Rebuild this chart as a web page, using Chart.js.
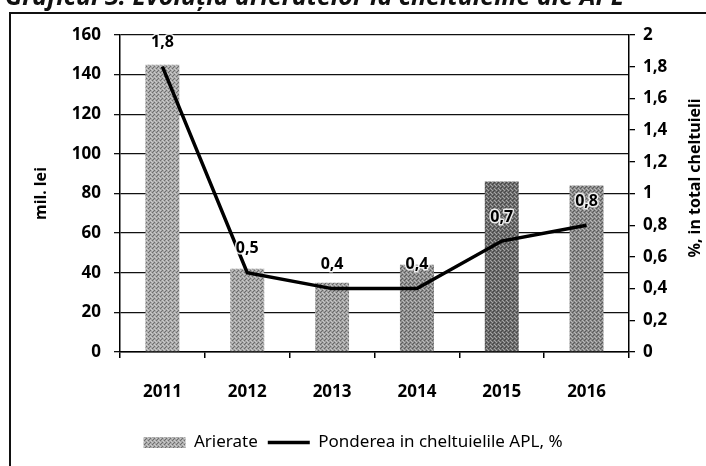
<!DOCTYPE html>
<html>
<head>
<meta charset="utf-8">
<script src="https://cdn.jsdelivr.net/npm/chart.js@4.4.0/dist/chart.umd.min.js"></script>
<style>
  html, body { margin: 0; background: #fff; }
  #wrap { width: 706px; height: 466px; position: relative; }
</style>
</head>
<body>
<div id="wrap"><canvas id="c"></canvas></div>
<script>
const years = ["2011", "2012", "2013", "2014", "2015", "2016"];
const arierate = [145, 42, 35, 44, 86, 84];       // mil. lei
const ponderea = [1.8, 0.5, 0.4, 0.4, 0.7, 0.8];  // %, in total cheltuieli
const barShades = ["#a9a9a9", "#a5a5a5", "#a0a0a0", "#8e8e8e", "#6c6c6c", "#8a8a8a"];
const titleText = "Graficul 3. Evoluția arieratelor la cheltuielile ale APL";

const FONT = "'Noto Sans', 'DejaVu Sans', sans-serif";
const comma = v => String(+v.toFixed(1)).replace(".", ",");

// scanned halftone look for the bars
function dither(hex) {
  const t = document.createElement("canvas");
  t.width = t.height = 4;
  const g = t.getContext("2d");
  g.fillStyle = hex; g.fillRect(0, 0, 4, 4);
  g.fillStyle = "rgba(0,0,0,.35)";
  g.fillRect(0, 0, 1, 1); g.fillRect(2, 2, 1, 1); g.fillRect(1, 3, 1, 1);
  g.fillStyle = "rgba(255,255,255,.4)";
  g.fillRect(2, 0, 1, 1); g.fillRect(0, 2, 1, 1); g.fillRect(3, 1, 1, 1);
  return g.createPattern(t, "repeat");
}

/* page frame, cut-off caption and right axis title (reads bottom-up) */
const frame = {
  id: "frame",
  beforeDraw(ch) {
    const c = ch.ctx;
    c.save();
    c.fillStyle = "#fff"; c.fillRect(0, 0, ch.width, ch.height);
    c.strokeStyle = "#111"; c.lineWidth = 2;
    c.strokeRect(10, 13, ch.width + 20, ch.height + 20);
    c.fillStyle = "#111";
    c.font = `italic bold 20px ${FONT}`;
    const k = 612 / c.measureText(titleText).width;
    c.font = `italic bold ${Math.round(20 * k)}px ${FONT}`;
    c.textBaseline = "alphabetic";
    c.fillText(titleText, 5, 5);
    c.translate(695, 178);
    c.rotate(-Math.PI / 2);
    c.font = `bold 16px ${FONT}`;
    c.textAlign = "center"; c.textBaseline = "middle";
    c.fillStyle = "#000";
    c.fillText("%, in total cheltuieli", 0, 0);
    c.restore();
  },
};

/* value labels over the line */
const pointLabels = {
  id: "pointLabels",
  afterDatasetsDraw(ch) {
    const meta = ch.getDatasetMeta(1), c = ch.ctx;
    c.save();
    c.font = `bold 16px ${FONT}`;
    c.textAlign = "center"; c.textBaseline = "middle"; c.lineJoin = "round";
    meta.data.forEach((p, i) => {
      const s = comma(ponderea[i]);
      c.strokeStyle = "rgba(255,255,255,.85)"; c.lineWidth = 3;
      c.strokeText(s, p.x, p.y - 24);
      c.fillStyle = "#000";
      c.fillText(s, p.x, p.y - 24);
    });
    c.restore();
  },
};

const tickFont = { family: FONT, size: 17, weight: "bold" };

new Chart(document.getElementById("c"), {
  data: {
    labels: years,
    datasets: [
      { type: "bar", label: "Arierate", data: arierate, yAxisID: "y",
        backgroundColor: barShades.map(dither), borderWidth: 0,
        barPercentage: 0.4, categoryPercentage: 1, order: 1 },
      { type: "line", label: "Ponderea in cheltuielile APL, %", data: ponderea, yAxisID: "y1",
        borderColor: "#000", backgroundColor: "#000", borderWidth: 3.5,
        pointRadius: 0, tension: 0, order: 0 },
    ],
  },
  options: {
    responsive: true, maintainAspectRatio: false, animation: false,
    layout: { padding: { top: 35, left: 0, right: 0, bottom: 5 } },
    plugins: {
      legend: {
        position: "bottom",
        labels: {
          usePointStyle: true, pointStyleWidth: 42, boxHeight: 11, padding: 10,
          color: "#000", font: { family: FONT, size: 17 },
          sort: (a, b) => a.datasetIndex - b.datasetIndex,
          generateLabels: ch => Chart.defaults.plugins.legend.labels.generateLabels(ch).map(it => {
            const ln = it.datasetIndex === 1;
            return { ...it, pointStyle: ln ? "line" : "rect", lineWidth: ln ? 3.5 : 0, strokeStyle: ln ? "#000" : "transparent" };
          }),
        },
      },
      tooltip: { enabled: false },
    },
    scales: {
      x: {
        grid: { drawOnChartArea: false, color: "#000", tickLength: 6, lineWidth: 1.5 },
        border: { color: "#000", width: 1.5 },
        ticks: { color: "#000", padding: 24, font: tickFont },
        afterFit: s => { s.height = 72; },
      },
      y: {
        position: "left", min: 0, max: 160,
        ticks: { stepSize: 20, color: "#000", padding: 13, font: tickFont },
        grid: { color: "#111", lineWidth: 1.3, tickLength: 6 },
        border: { color: "#000", width: 1.5 },
        title: { display: true, text: "mil. lei", color: "#000",
                 font: { family: FONT, size: 16, weight: "bold" }, padding: { top: 32, bottom: 0 } },
        afterFit: s => { s.width = 120; },
      },
      y1: {
        position: "right", min: 0, max: 2,
        ticks: { stepSize: 0.2, color: "#000", padding: 8, font: tickFont, callback: v => comma(v) },
        grid: { drawOnChartArea: false, color: "#000", tickLength: 6, lineWidth: 1.3 },
        border: { color: "#000", width: 1.5 },
        afterFit: s => { s.width = 77; },
      },
    },
  },
  plugins: [frame, pointLabels],
});
</script>
</body>
</html>
